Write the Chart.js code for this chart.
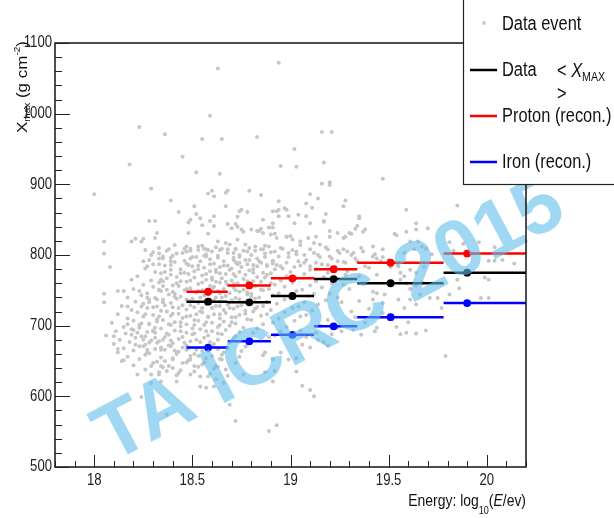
<!DOCTYPE html>
<html>
<head>
<meta charset="utf-8">
<script src="https://cdn.jsdelivr.net/npm/chart.js@4.4.1/dist/chart.umd.min.js"></script>
<style>
  html, body { margin: 0; padding: 0; background: #fff; }
  #wrap { position: relative; width: 614px; height: 518px; }
</style>
</head>
<body>
<div id="wrap"><canvas id="xmaxChart" width="614" height="518"></canvas></div>
<script>
/* ---------- <Xmax> per energy bin ---------- */
const binCenter  = [18.58, 18.79, 19.01, 19.22, 19.51, 19.90];
const binLow     = [18.47, 18.68, 18.90, 19.12, 19.34, 19.78];
const binHigh    = [18.68, 18.90, 19.12, 19.34, 19.78, 20.20];
const dataXmax   = [734, 733, 742, 766, 760, 775];
const protonXmax = [748, 757, 767, 780, 789, 802];
const ironXmax   = [669, 678, 687, 699, 712, 732];

/* ---------- individual events: [log10(E/eV), Xmax] ---------- */
const outerEvents = [
  [18.63,1064],[18.59,997],[18.23,981],[18.36,971],[18.55,964],[18.65,964],[18.83,967],[18.45,939],[18.18,928],
  [18.52,917],[18.64,915],[18.00,886],[18.29,894],[18.58,887],[18.60,891],[18.61,883],[18.68,891],[18.67,888],
  [18.79,891],[18.39,877],[18.51,869],[18.67,869],[18.43,861],[18.75,864],[18.74,862],[18.78,861],[18.52,858],
  [18.73,854],[18.54,852],[18.28,848],[18.31,848],[18.61,855],[18.49,850],[18.48,846],[18.59,848],[18.55,842],
  [18.61,841],[18.68,844],[18.72,844],[18.73,840],[18.70,838],[18.75,836],[18.76,833],[18.32,831],[18.31,824],
  [18.48,831],[18.58,830],[18.84,834],[18.21,823],[18.25,823],
  [18.94,1072],[19.16,974],[19.21,974],[19.02,950],[18.95,926],[19.03,925],[19.17,931],[19.47,908],[19.16,901],
  [19.20,903],[19.20,899],[18.85,885],[19.10,886],[18.94,876],[19.08,873],[19.11,867],[19.14,880],[19.28,877],
  [19.27,869],[18.97,866],[18.93,862],[19.18,858],[19.17,847],[19.35,852],[19.59,864],[19.85,870],[19.64,845],
  [19.64,836],[19.70,838],[18.89,839],[18.91,839],[18.85,837],[18.92,830],[18.98,826],[19.00,827],[19.13,826],
  [19.20,826],[19.33,837],[19.31,830],[19.28,826],[19.37,833],[19.53,830],[19.54,828],[19.59,833],
  [19.61,819],[19.65,819],[19.67,812],[19.69,809],[19.58,803],[19.63,808],[19.72,801],[19.81,818],[19.88,816],
  [19.83,806],[19.96,818],[20.04,811],[20.01,792],[20.04,792],[20.08,793],[20.14,788],[19.42,812],[19.47,808],
  [19.43,801],[19.47,797],[19.42,798],[19.46,791],[19.50,793],[19.51,783],[19.55,784],[19.56,775],[19.58,770],
  [19.61,779],[19.64,775],[19.68,783],[19.56,765],[19.59,760],[19.61,752],[19.64,757],[19.67,761],[19.99,768],
  [20.01,765],[19.97,739],[20.01,739],[19.85,765],[19.86,753],
  [19.44,746],[19.48,744],[19.42,737],[19.47,732],[19.55,737],[19.61,737],[19.66,744],[19.71,739],[19.75,739],
  [19.81,744],[19.58,725],[19.64,730],[19.77,725],
  [19.44,697],[19.43,692],[19.54,698],[19.60,705],[19.56,688],[19.59,690],[19.64,689],[19.69,693],[19.79,657],
  [18.76,631],[18.87,634],[18.92,636],[18.91,621],[19.03,635],[19.06,615],[19.10,609],[19.12,600],[18.69,588],
  [18.72,565],[18.93,559],[18.89,551],[18.99,652],[19.03,654],[19.10,669],[19.17,677],[19.06,673],[19.26,692],
  [19.32,694],[19.36,687],[18.95,662],[18.91,652],[18.87,662],
  [18.10,685],[18.12,667],[18.15,651],[18.19,687],[18.21,673],[18.25,671],[18.27,662],[18.29,643],[18.24,599],
  [18.37,574],[18.29,631],[18.33,631],[18.29,619],[18.34,621],[18.42,621],[18.49,631],[18.54,614],[18.54,628],
  [18.57,612],[18.61,614],[18.43,633],[18.40,640],
  [18.17,702],[18.23,697],[18.28,702],[18.30,692],[18.20,694],[18.26,685],[18.31,683],[18.35,680],[18.28,676],
  [18.34,666],[18.39,671],[18.42,662],[18.47,666],[18.49,652],[18.53,657],[18.36,650],[18.40,652],[18.45,647],
  [18.51,643],[18.56,647],[18.60,657],[18.62,643],[18.65,652],[18.67,638],[18.58,628],[18.62,624],[18.66,619],
  [18.37,636],[18.34,643],
  [18.05,819],[18.19,819],[18.24,819],[18.05,802],[18.26,807],[18.29,800],[18.33,802],[18.33,795],[18.35,795],
  [18.37,806],[18.08,783],[18.25,791],[18.27,784],[18.30,787],[18.39,791],[18.39,772],[18.19,765],[18.12,749],
  [18.15,749],[18.23,749],[18.05,745],[18.05,733],[18.17,727],[18.24,727],[18.28,733],[18.32,737],[18.33,750],
  [18.34,765],[18.35,756],[18.47,812],[18.49,806],[18.47,805],[18.53,812],[18.56,809],[18.57,798],[18.57,808],
  [18.63,819],[18.64,807],[18.67,817],[18.68,808],
  [18.91,862],[18.94,864],[18.98,864],[18.86,850],[18.91,845],[18.94,855],[18.99,855],[19.02,845],[19.04,857],
  [19.08,855],[19.10,845],[19.17,848],[19.20,834],[19.24,831],[19.27,824],[19.30,831],[19.34,841],[19.35,855],
  [19.38,836],[18.80,836],[18.83,834],[18.86,831],[18.90,829],[18.93,824],[18.98,826],[19.01,822],[19.05,819],
  [19.09,824],[19.12,817],[19.15,815],[18.73,822],[18.77,815],[18.72,808],[18.78,805],[18.82,812],[18.86,808],
  [18.89,812],[18.92,805],[18.95,810],[18.99,803],[19.03,805],[19.07,800],[19.10,808],[19.14,800],[19.19,808],
  [19.20,798],[19.25,803],[19.29,805],[19.32,803],[19.36,810],[18.71,793],[18.74,789],[18.79,793],[18.81,786],
  [18.84,791],[18.88,786],[18.91,791],[18.95,784],[18.98,789],[19.02,783],[19.07,789],[19.10,784],[19.13,789],
  [19.19,786],[19.24,791],[19.28,789],[19.34,791],[19.38,784],
  [19.20,745],[19.27,758],[19.35,770],[19.40,782],[19.33,795],[19.38,760],[19.42,748],[19.26,733],[19.31,720],
  [19.19,708],[19.24,697],[19.13,690],[19.35,735],[19.44,772],[19.29,777],[19.37,805],[19.44,795],[19.15,700],
  [19.33,712],[19.40,724],[19.47,718],[19.38,704],[19.08,684],[19.14,680],[19.21,688],[19.05,693],[19.19,672]
];

const coreEvents = [
  [18.33,810],[18.41,814],[18.49,809],[18.55,813],[18.62,811],[18.69,815],[18.79,810],[18.87,813],[18.96,809],[19.05,814],[19.18,811],[19.27,808],
  [18.30,804],[18.38,808],[18.45,803],[18.53,807],[18.60,805],[18.65,809],[18.71,803],[18.76,806],[18.85,808],[18.90,804],[19.01,807],[19.12,803],[19.24,806],
  [18.35,798],[18.42,802],[18.50,797],[18.57,801],[18.63,799],[18.68,803],[18.74,797],[18.80,800],[18.87,802],[18.94,798],[19.03,801],[19.15,797],[19.31,800],
  [18.28,793],[18.39,796],[18.46,792],[18.52,797],[18.59,794],[18.66,791],[18.71,796],[18.77,793],[18.83,795],[18.91,792],[18.99,797],[19.08,793],[19.21,795],
  [18.33,787],[18.41,790],[18.48,786],[18.54,791],[18.61,788],[18.68,785],[18.72,790],[18.78,787],[18.85,789],[18.93,786],[19.04,791],[19.16,787],[19.27,790],
  [18.26,781],[18.36,785],[18.44,780],[18.50,784],[18.56,782],[18.62,779],[18.66,785],[18.70,781],[18.75,783],[18.81,780],[18.88,784],[18.96,781],[19.05,785],[19.13,780],[19.23,783],
  [18.31,776],[18.39,779],[18.46,775],[18.53,780],[18.59,777],[18.64,774],[18.69,779],[18.74,776],[18.79,778],[18.86,775],[18.92,780],[19.00,776],[19.10,779],[19.19,775],
  [18.22,770],[18.34,774],[18.42,769],[18.48,773],[18.55,771],[18.60,768],[18.67,773],[18.72,770],[18.77,772],[18.83,769],[18.90,774],[18.98,770],[19.07,773],[19.17,769],[19.28,772],
  [18.29,764],[18.37,767],[18.44,763],[18.51,768],[18.57,765],[18.62,762],[18.65,767],[18.70,764],[18.76,766],[18.81,763],[18.87,768],[18.95,764],[19.03,767],[19.13,763],
  [18.25,758],[18.33,761],[18.40,757],[18.47,762],[18.53,759],[18.59,756],[18.64,761],[18.68,758],[18.73,760],[18.79,757],[18.85,762],[18.92,758],[19.01,761],[19.10,757],[19.21,760],
  [18.20,752],[18.30,755],[18.37,751],[18.43,756],[18.49,753],[18.55,750],[18.61,755],[18.66,752],[18.71,754],[18.76,751],[18.82,756],[18.89,752],[18.97,755],[19.06,751],[19.16,754],[19.30,752],
  [18.27,746],[18.34,749],[18.41,745],[18.46,750],[18.52,747],[18.58,744],[18.63,749],[18.69,746],[18.74,748],[18.80,745],[18.86,750],[18.94,746],[19.03,749],[19.12,745],
  [18.17,740],[18.24,743],[18.31,739],[18.38,744],[18.44,741],[18.50,738],[18.56,743],[18.62,740],[18.67,742],[18.72,739],[18.78,744],[18.84,740],[18.91,743],[19.00,739],[19.09,742],[19.24,740],
  [18.21,734],[18.28,737],[18.35,733],[18.42,738],[18.48,735],[18.53,732],[18.59,737],[18.64,734],[18.70,736],[18.76,733],[18.82,738],[18.88,734],[18.97,737],[19.07,733],[19.18,736],
  [18.14,728],[18.25,731],[18.32,727],[18.39,732],[18.45,729],[18.51,726],[18.57,731],[18.62,728],[18.68,730],[18.73,727],[18.80,732],[18.86,728],[18.93,731],[19.04,727],[19.14,730],
  [18.19,722],[18.27,725],[18.34,721],[18.40,726],[18.47,723],[18.54,720],[18.60,725],[18.66,722],[18.71,724],[18.77,721],[18.83,726],[18.90,722],[19.01,725],[19.11,721],
  [18.12,716],[18.22,719],[18.30,715],[18.37,720],[18.43,717],[18.49,714],[18.55,719],[18.61,716],[18.67,718],[18.74,715],[18.81,720],[18.88,716],[18.97,719],[19.08,715],
  [18.17,710],[18.25,713],[18.32,709],[18.39,714],[18.45,711],[18.51,708],[18.58,713],[18.64,710],[18.70,712],[18.78,709],[18.85,714],[18.94,710],[19.05,713],
  [18.09,704],[18.20,707],[18.28,703],[18.35,708],[18.41,705],[18.47,702],[18.53,707],[18.60,704],[18.66,706],[18.72,703],[18.80,708],[18.91,704],[19.02,707],
  [18.15,698],[18.23,701],[18.31,697],[18.38,702],[18.44,699],[18.50,696],[18.56,701],[18.63,698],[18.69,700],[18.76,697],[18.86,702],[18.98,698],
  [18.11,692],[18.19,695],[18.27,691],[18.34,696],[18.41,693],[18.47,690],[18.54,695],[18.60,692],[18.67,694],[18.74,691],[18.83,696],[18.95,692],
  [18.06,686],[18.16,689],[18.24,685],[18.31,690],[18.38,687],[18.45,684],[18.51,689],[18.58,686],[18.65,688],[18.72,685],[18.81,690],[18.92,686],
  [18.13,680],[18.21,683],[18.29,679],[18.36,684],[18.43,681],[18.49,678],[18.56,683],[18.63,680],[18.71,682],[18.79,679],[18.89,684],
  [18.10,674],[18.18,677],[18.26,673],[18.33,678],[18.40,675],[18.47,672],[18.54,677],[18.61,674],[18.69,676],[18.78,673],
  [18.15,668],[18.23,671],[18.31,667],[18.38,672],[18.45,669],[18.52,666],[18.60,671],[18.68,668],[18.77,670],
  [18.12,662],[18.20,665],[18.28,661],[18.36,666],[18.43,663],[18.51,660],[18.58,665],[18.66,662],[18.75,664],
  [18.17,656],[18.26,659],[18.34,655],[18.42,660],[18.49,657],[18.57,654],[18.65,659],[18.74,656],[18.86,658],
  [18.14,650],[18.23,653],[18.32,649],[18.40,654],[18.48,651],[18.56,648],[18.64,653],
  [18.20,644],[18.30,647],[18.38,643],[18.47,648],[18.55,645],[18.63,642],[18.72,647],
  [18.26,638],[18.35,641],[18.44,637],[18.53,642],[18.61,639],
  [18.22,631],[18.33,634],[18.42,630],[18.51,635],[18.59,632],[18.68,629],
  // denser centre
  [18.46,809],[18.58,807],[18.72,809],[18.82,806],
  [18.40,799],[18.49,795],[18.56,799],[18.63,796],[18.74,800],[18.87,797],
  [18.39,786],[18.47,788],[18.53,785],[18.59,787],[18.64,783],[18.73,787],[18.83,784],[18.91,788],
  [18.36,776],[18.44,774],[18.51,777],[18.57,773],[18.62,776],[18.71,773],[18.81,775],[18.88,772],
  [18.35,763],[18.42,760],[18.49,764],[18.55,761],[18.60,765],[18.67,762],[18.71,759],[18.78,763],[18.90,760],
  [18.33,751],[18.40,748],[18.47,752],[18.53,749],[18.60,752],[18.64,746],[18.72,750],[18.78,747],[18.85,751],
  [18.27,740],[18.35,737],[18.41,741],[18.47,737],[18.54,740],[18.61,736],[18.65,740],[18.74,737],[18.80,741],
  [18.30,726],[18.36,729],[18.43,725],[18.49,729],[18.55,725],[18.64,728],[18.69,725],[18.75,729],[18.82,724],
  [18.26,716],[18.33,713],[18.40,717],[18.47,713],[18.52,716],[18.58,712],[18.64,716],[18.72,712],[18.77,717],
  [18.24,703],[18.32,706],[18.39,701],[18.44,705],[18.51,701],[18.57,705],[18.64,701],[18.70,705],
  [18.22,690],[18.30,693],[18.37,689],[18.44,692],[18.50,688],[18.57,692],[18.63,689],
  [18.25,680],[18.32,676],[18.39,679],[18.46,676],[18.52,680],[18.59,677],
  [18.27,666],[18.34,669],[18.41,665],[18.48,668],[18.55,664],[18.63,667]
];

// the reference text is horizontally condensed, so text is drawn squeezed
const FONT = '"Liberation Sans", Arial, sans-serif';
const SQ = 0.82;

function barSegments(values) {
  const pts = [];
  values.forEach((v, i) => {
    pts.push({ x: binLow[i], y: v }, { x: binHigh[i], y: v }, { x: binHigh[i], y: null });
  });
  return pts;
}

function markerPoints(values) {
  return values.map((v, i) => ({ x: binCenter[i], y: v }));
}

function segDataset(label, values, color) {
  return {
    label, data: barSegments(values), showLine: true, spanGaps: false,
    borderColor: color, borderWidth: 2.5, pointRadius: 0, order: 2
  };
}

function markDataset(label, values, color) {
  return {
    label, data: markerPoints(values), showLine: false,
    pointRadius: 3.9, pointBackgroundColor: color, pointBorderWidth: 0, order: 1
  };
}

// draw a list of text parts (font, text, baseline shift) squeezed horizontally
function partsWidth(ctx, parts) {
  let w = 0;
  parts.forEach(p => { ctx.font = p.f; w += ctx.measureText(p.t).width; });
  return w * SQ;
}

function drawParts(ctx, parts, x, y, align) {
  const w = partsWidth(ctx, parts);
  let start = align === 'right' ? x - w : align === 'center' ? x - w / 2 : x;
  ctx.save();
  ctx.translate(start, y);
  ctx.scale(SQ, 1);
  ctx.textAlign = 'left';
  let cx = 0;
  parts.forEach(p => {
    ctx.font = p.f;
    ctx.fillText(p.t, cx, p.dy || 0);
    cx += ctx.measureText(p.t).width;
  });
  ctx.restore();
}

/* ---------- plugins ---------- */
const watermark = {
  id: 'watermark',
  afterDatasetsDraw(chart) {
    const ctx = chart.ctx;
    ctx.save();
    ctx.translate(330, 322);
    ctx.rotate(-28 * Math.PI / 180);
    ctx.font = 'bold 80px "Liberation Sans", Arial, sans-serif';
    ctx.textAlign = 'center';
    ctx.textBaseline = 'middle';
    ctx.fillStyle = 'rgba(97,190,235,0.6)';
    ctx.fillText('TA ICRC 2015', 0, 0);
    ctx.restore();
  }
};

const frame = {
  id: 'frame',
  afterDatasetsDraw(chart) {
    const { ctx, chartArea: a, scales: { x, y } } = chart;
    ctx.save();
    ctx.strokeStyle = '#222';
    ctx.lineWidth = 1;
    ctx.beginPath();
    for (let v = y.min; v <= y.max; v += 20) {
      const p = Math.round(y.getPixelForValue(v)) + 0.5;
      const len = v % 100 === 0 ? 15 : 7;
      ctx.moveTo(a.left, p); ctx.lineTo(a.left + len, p);
    }
    for (let i = Math.round(x.min * 10); i <= Math.round(x.max * 10); i++) {
      const p = Math.round(x.getPixelForValue(i / 10)) + 0.5;
      const len = i % 5 === 0 ? 12 : 6;
      ctx.moveTo(p, a.bottom); ctx.lineTo(p, a.bottom - len);
    }
    ctx.stroke();
    ctx.lineWidth = 1.6;
    ctx.strokeRect(a.left, a.top, a.right - a.left, a.bottom - a.top);

    // tick labels from the scales' own ticks
    ctx.fillStyle = '#222';
    ctx.textBaseline = 'top';
    x.ticks.forEach(t => {
      drawParts(ctx, [{ t: String(t.value), f: '16px ' + FONT }], x.getPixelForValue(t.value), a.bottom + 6, 'center');
    });
    ctx.textBaseline = 'middle';
    y.ticks.forEach(t => {
      drawParts(ctx, [{ t: String(t.value), f: '16px ' + FONT }], a.left - 3, y.getPixelForValue(t.value), 'right');
    });
    ctx.restore();
  }
};

const titlesAndLegend = {
  id: 'titlesAndLegend',
  afterDraw(chart) {
    const { ctx, chartArea: a } = chart;
    ctx.save();
    ctx.fillStyle = '#111';
    ctx.textBaseline = 'alphabetic';

    // y title, rotated, ending at the top of the axis
    ctx.save();
    ctx.translate(27, a.top - 2);
    ctx.rotate(-Math.PI / 2);
    ctx.scale(1, SQ);
    const yParts = [
      { t: 'X', f: '17px ' + FONT, dy: 0 },
      { t: 'max', f: '10px ' + FONT, dy: 4 },
      { t: ' (g cm', f: '17px ' + FONT, dy: 0 },
      { t: '-2', f: '10px ' + FONT, dy: -8 },
      { t: ')', f: '17px ' + FONT, dy: 0 }
    ];
    let total = 0;
    yParts.forEach(p => { ctx.font = p.f; total += ctx.measureText(p.t).width; });
    let cx = -total;
    yParts.forEach(p => {
      ctx.font = p.f;
      ctx.fillText(p.t, cx, p.dy);
      cx += ctx.measureText(p.t).width;
    });
    ctx.restore();

    // x title, right-aligned under the axis
    drawParts(ctx, [
      { t: 'Energy: log', f: '17px ' + FONT },
      { t: '10', f: '11px ' + FONT, dy: 8 },
      { t: '(', f: '17px ' + FONT },
      { t: 'E', f: 'italic 17px ' + FONT },
      { t: '/ev)', f: '17px ' + FONT }
    ], a.right, 506, 'right');

    // legend box
    ctx.fillStyle = '#fff';
    ctx.fillRect(463, -2, 160, 187);
    ctx.strokeStyle = '#222';
    ctx.lineWidth = 1.2;
    ctx.strokeRect(463.5, -2, 170, 186.5);

    ctx.fillStyle = '#c8c8c8';
    ctx.beginPath(); ctx.arc(484, 23, 1.9, 0, Math.PI * 2); ctx.fill();

    const rows = [
      { y: 70, color: '#000000' },
      { y: 116, color: '#ff0000' },
      { y: 162, color: '#0000ff' }
    ];
    rows.forEach(r => {
      ctx.strokeStyle = r.color; ctx.lineWidth = 2.5;
      ctx.beginPath(); ctx.moveTo(470, r.y); ctx.lineTo(497, r.y); ctx.stroke();
    });

    ctx.fillStyle = '#111';
    ctx.textBaseline = 'middle';
    const LF = '20px ' + FONT;
    drawParts(ctx, [{ t: 'Data event', f: LF }], 502, 24, 'left');
    drawParts(ctx, [{ t: 'Data', f: LF }], 502, 70, 'left');
    drawParts(ctx, [
      { t: '< ', f: LF },
      { t: 'X', f: 'italic ' + LF },
      { t: 'MAX', f: '13px ' + FONT, dy: 6 }
    ], 557, 71, 'left');
    drawParts(ctx, [{ t: '>', f: LF }], 557, 94, 'left');
    drawParts(ctx, [{ t: 'Proton (recon.)', f: LF }], 502, 116, 'left');
    drawParts(ctx, [{ t: 'Iron (recon.)', f: LF }], 502, 162, 'left');
    ctx.restore();
  }
};

/* ---------- chart ---------- */
new Chart(document.getElementById('xmaxChart'), {
  type: 'scatter',
  data: {
    datasets: [
      markDataset('Proton marker', protonXmax, '#ff0000'),
      markDataset('Data marker', dataXmax, '#000000'),
      markDataset('Iron marker', ironXmax, '#0000ff'),
      segDataset('Proton (recon.)', protonXmax, '#ff0000'),
      segDataset('Data <Xmax>', dataXmax, '#000000'),
      segDataset('Iron (recon.)', ironXmax, '#0000ff'),
      {
        label: 'Data event',
        data: outerEvents.concat(coreEvents).map(([x, y]) => ({ x, y })),
        pointRadius: 2.0,
        pointBackgroundColor: '#c6c6c6',
        pointBorderWidth: 0,
        order: 10
      }
    ]
  },
  options: {
    responsive: false,
    animation: false,
    events: [],
    layout: { padding: { top: 43, right: 88, left: 0, bottom: 0 } },
    plugins: { legend: { display: false }, tooltip: { enabled: false } },
    scales: {
      x: {
        type: 'linear', min: 17.8, max: 20.2,
        afterFit: s => { s.height = 51; },
        ticks: { display: false, stepSize: 0.5, includeBounds: false },
        grid: { display: false, drawTicks: false },
        border: { display: false }
      },
      y: {
        type: 'linear', min: 500, max: 1100,
        afterFit: s => { s.width = 55; },
        ticks: { display: false, stepSize: 100 },
        grid: { display: false, drawTicks: false },
        border: { display: false }
      }
    }
  },
  plugins: [watermark, frame, titlesAndLegend]
});
</script>
</body>
</html>
